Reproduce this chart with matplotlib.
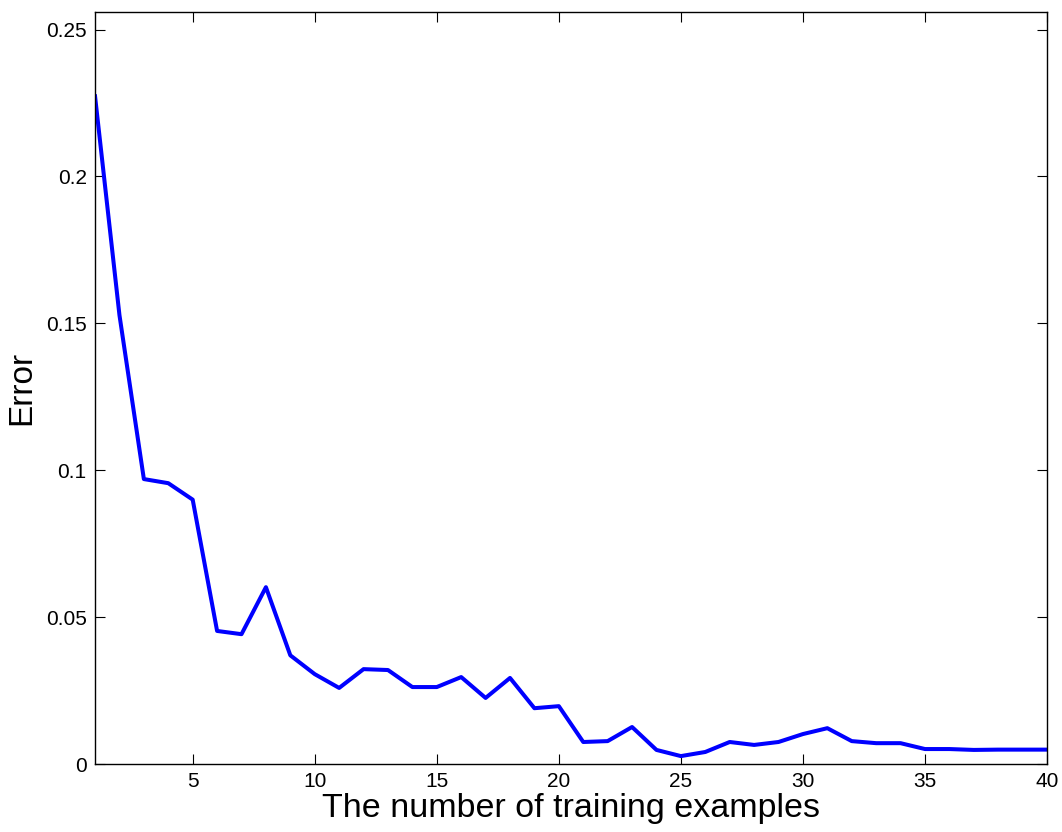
import numpy as np
import matplotlib
matplotlib.use('Agg')
import matplotlib.pyplot as plt

# training set size vs. error
n_examples = list(range(1, 41))
error = [0.2273, 0.1528, 0.0970, 0.0956, 0.0900, 0.0453, 0.0442, 0.0602, 0.0370, 0.0306,
         0.0259, 0.0323, 0.0320, 0.0262, 0.0262, 0.0296, 0.0225, 0.0293, 0.0190, 0.0197,
         0.0075, 0.0078, 0.0126, 0.0048, 0.0027, 0.0041, 0.0075, 0.0065, 0.0075, 0.0102,
         0.0122, 0.0078, 0.0071, 0.0071, 0.0051, 0.0051, 0.0048, 0.0049, 0.0049, 0.0049]
xticks = [5, 10, 15, 20, 25, 30, 35, 40]
yticks = [0, 0.05, 0.1, 0.15, 0.2, 0.25]
yticklabels = ['0', '0.05', '0.1', '0.15', '0.2', '0.25']

plt.rcParams['font.family'] = ['Liberation Sans', 'DejaVu Sans']

fig = plt.figure(figsize=(10.62, 8.32), dpi=100)
ax = fig.add_axes([0.0895, 0.0817, 0.8964, 0.9039])
ax.plot(n_examples, error, color='#0000ff', linewidth=2.9)

ax.set_xlim(1, 40)
ax.set_ylim(0, 0.256)
ax.set_xticks(xticks)
ax.set_yticks(yticks)
ax.set_yticklabels(yticklabels)
ax.tick_params(direction='in', length=7, width=0.8, top=True, right=True, labelsize=15)
ax.tick_params(axis='x', pad=6)
ax.tick_params(axis='y', pad=6)
for s in ax.spines.values():
    s.set_linewidth(1.0)

ax.set_xlabel('The number of training examples', fontsize=24.5, labelpad=1)
ax.set_ylabel('Error', fontsize=24, labelpad=6)

plt.savefig('out.png', dpi=100)
